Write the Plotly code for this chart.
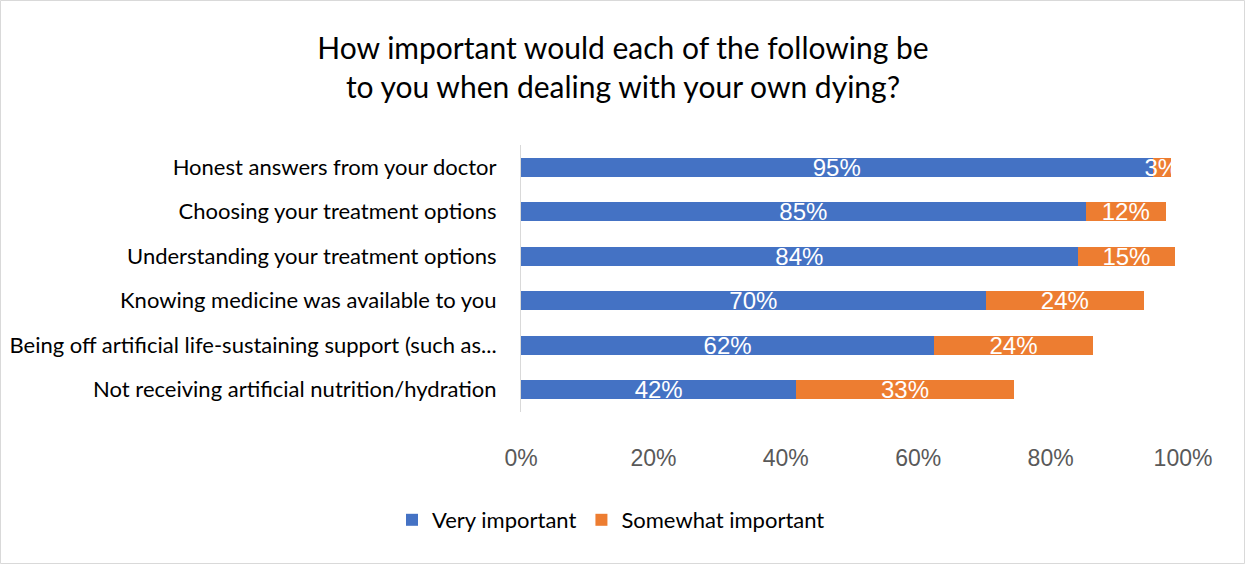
import plotly.graph_objects as go

categories = [
    "Honest answers from your doctor",
    "Choosing your treatment options",
    "Understanding your treatment options",
    "Knowing medicine was available to you",
    "Being off artificial life-sustaining support (such as...",
    "Not receiving artificial nutrition/hydration",
]
very_important = [95.4, 85.3, 84.1, 70.2, 62.4, 41.6]
somewhat_important = [2.8, 12.1, 14.7, 23.9, 24.0, 32.8]
tick_vals = [0, 20, 40, 60, 80, 100]
tick_text = ["0%", "20%", "40%", "60%", "80%", "100%"]

W, H = 1246, 565
L, R, T, B = 521, 1183, 145, 412

fig = go.Figure()
for name, vals, color in [("Very important", very_important, "#4472C4"),
                          ("Somewhat important", somewhat_important, "#ED7D31")]:
    fig.add_trace(go.Bar(
        y=categories, x=vals, orientation="h", name=name,
        marker=dict(color=color, line=dict(width=0)),
        texttemplate="%{x:.0f}%", textposition="inside", insidetextanchor="middle",
        textangle=0,
        textfont=dict(color="white", size=24, family="Liberation Sans"),
        constraintext="none",
    ))

fig.update_layout(
    width=W, height=H,
    barmode="stack", bargap=0.58,
    paper_bgcolor="white", plot_bgcolor="white",
    margin=dict(l=L, r=W - R, t=T, b=H - B, autoexpand=False),
    title=dict(
        text="How important would each of the following be<br>to you when dealing with your own dying?",
        x=0.5, xanchor="center", y=1 - 59 / H, yanchor="middle",
        font=dict(family="Lato", size=30, color="black"),
    ),
    xaxis=dict(
        range=[0, 100], tickvals=tick_vals, ticktext=tick_text,
        showgrid=False, zeroline=False, showline=False,
        tickfont=dict(family="Liberation Sans", size=23, color="#595959"),
        ticklabelstandoff=30, fixedrange=True, automargin=False,
    ),
    yaxis=dict(
        autorange="reversed", showgrid=False, zeroline=False,
        showline=True, linecolor="#D9D9D9", linewidth=1,
        tickfont=dict(family="Lato", size=22, color="black"),
        ticklabelstandoff=19, fixedrange=True, automargin=False,
    ),
    legend=dict(
        orientation="h", x=(611 - L) / (R - L), xanchor="center",
        y=(B - 520) / (B - T), yanchor="middle",
        font=dict(family="Lato", size=22, color="black"),
        itemwidth=30, traceorder="normal",
    ),
    showlegend=True,
)

pw, ph = R - L, B - T
fig.add_shape(
    type="rect", xref="paper", yref="paper",
    x0=(0.5 - L) / pw, x1=(W - 1.5 - L) / pw,
    y0=(B - (H - 1.5)) / ph, y1=(B - 0.5) / ph,
    line=dict(color="#D9D9D9", width=1), fillcolor="rgba(0,0,0,0)",
    layer="below",
)

fig.write_html(
    "out.html",
    config={"displayModeBar": False},
    post_script="document.body.style.margin='0';document.body.style.overflow='hidden';",
)
